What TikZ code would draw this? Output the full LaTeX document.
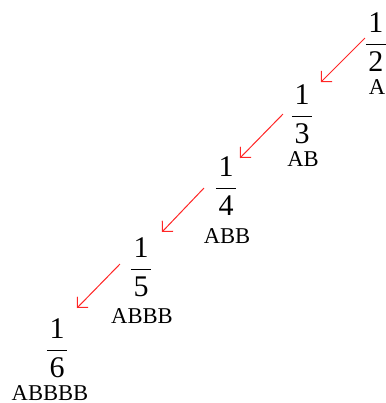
\documentclass[tikz,border=0pt]{standalone}
\usepackage{amsmath}
\usepackage{fontspec}
\setmainfont{Liberation Serif}
\usetikzlibrary{arrows.meta}
\tikzset{
  frac/.style={inner sep=0pt, font=\fontsize{15}{16}\selectfont},
  lab/.style={inner sep=0pt, font=\fontsize{11.3}{13}\selectfont},
  arr/.style={draw=red!85!white, line width=0.5pt, -{Straight Barb[length=3.8pt,width=7.6pt]}}
}
\newcommand{\myfr}[2]{$\displaystyle\genfrac{}{}{0.8pt}{0}{\kern1.3pt\textrm{#1}\kern1.3pt}{\kern1.3pt\textrm{#2}\kern1.3pt}$}
\begin{document}
\begin{tikzpicture}[x=0.5pt,y=-0.5pt]
\useasboundingbox (0,0) rectangle (386,403);
\node[frac] (f1) at (376,42) {\myfr{1}{2}};
\node[frac] (f2) at (302,114) {\myfr{1}{3}};
\node[frac] (f3) at (226,186) {\myfr{1}{4}};
\node[frac] (f4) at (141,267) {\myfr{1}{5}};
\node[frac] (f5) at (57,348) {\myfr{1}{6}};
\node[lab] (l1) at (377,87) {A};
\node[lab] (l2) at (303,159) {AB};
\node[lab] (l3) at (227,236) {ABB};
\node[lab] (l4) at (142,316) {ABBB};
\node[lab] (l5) at (50,393) {ABBBB};
\coordinate (s1) at (365,38); \coordinate (e1) at (321,82);
\coordinate (s2) at (283,114); \coordinate (e2) at (240,158);
\coordinate (s3) at (204,188); \coordinate (e3) at (162,232);
\coordinate (s4) at (120,264); \coordinate (e4) at (77,308);
\draw[arr] (s1) -- (e1);
\draw[arr] (s2) -- (e2);
\draw[arr] (s3) -- (e3);
\draw[arr] (s4) -- (e4);
\end{tikzpicture}
\end{document}
